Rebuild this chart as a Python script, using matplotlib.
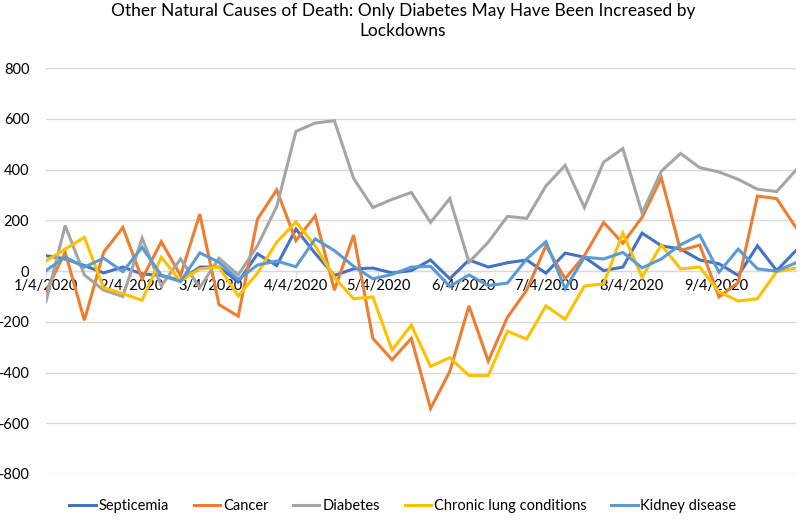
import matplotlib
matplotlib.use("Agg")
import matplotlib.pyplot as plt
import matplotlib.dates as mdates
import matplotlib.ticker as mticker
import pandas as pd

plt.rcParams['font.family'] = ['Lato', 'DejaVu Sans']
plt.rcParams['axes.unicode_minus'] = False

# weekly excess deaths, weeks ending 1/4/2020 .. 10/3/2020
weeks = pd.date_range("2020-01-04", periods=40, freq="7D")

septicemia = [61, 48, 22, -7, 16, -11, -17, -37, 16, 16, -43, 68, 22, 166, 70, -17, 9, 12, -7, 2,
              44, -30, 44, 16, 33, 44, -8, 71, 55, 2, 16, 150, 100, 87, 44, 29, -17, 100, 2, 81]
cancer = [-80, 74, -194, 74, 172, -30, 116, -17, 225, -132, -178, 205, 320, 120, 218, -75, 142, -265, -350, -265,
          -542, -396, -137, -355, -182, -75, 100, -30, 61, 192, 110, 212, 368, 81, 103, -102, -45, 296, 286, 172]
diabetes = [-120, 180, -15, -75, -100, 130, -58, 48, -65, 51, -15, 100, 255, 551, 584, 593, 365, 251, 283, 310,
            192, 286, 35, 114, 216, 208, 336, 417, 251, 430, 483, 229, 394, 464, 408, 391, 362, 323, 314, 398]
lung = [40, 87, 133, -66, -89, -115, 55, -40, 9, 16, -98, -8, 114, 194, 100, -25, -109, -102, -311, -213,
        -376, -341, -412, -412, -237, -268, -137, -190, -59, -50, 150, -24, 103, 9, 16, -82, -118, -109, -2, 12]
kidney = [2, 55, 16, 51, -2, 94, -17, -41, 72, 35, -33, 24, 40, 17, 127, 81, 19, -30, -13, 16,
          19, -60, -15, -57, -47, 48, 116, -70, 55, 48, 74, 13, 48, 104, 142, -4, 87, 9, 0, 33]

series = [
    ("Septicemia", septicemia, "#4472C4"),
    ("Cancer", cancer, "#ED7D31"),
    ("Diabetes", diabetes, "#A5A5A5"),
    ("Chronic lung conditions", lung, "#FFC000"),
    ("Kidney disease", kidney, "#5B9BD5"),
]

fig = plt.figure(figsize=(8.06, 5.2), dpi=100)
ax = fig.add_axes([0.057, 0.0885, 0.9305, 0.7802])

for name, vals, col in series:
    ax.plot(weeks, vals, color=col, lw=2.2, label=name, zorder=3,
            solid_joinstyle="miter")

ax.set_ylim(-800, 800)
ax.set_xlim(weeks[0], weeks[-1])
ax.yaxis.set_major_locator(mticker.MultipleLocator(200))
ax.grid(axis="y", color="#D9D9D9", lw=1)
ax.set_axisbelow(True)

for s in ["top", "right", "left"]:
    ax.spines[s].set_visible(False)
ax.spines["bottom"].set_position(("data", 0))
ax.spines["bottom"].set_color("#D9D9D9")

ax.xaxis.set_major_locator(mdates.MonthLocator(bymonthday=4))
ax.xaxis.set_major_formatter(mticker.FuncFormatter(
    lambda v, p: "{d.month}/{d.day}/{d.year}".format(d=mdates.num2date(v))))
ax.tick_params(axis="x", length=4, color="#D9D9D9", labelsize=10.5, pad=2)
ax.tick_params(axis="y", length=0, labelsize=10.5, pad=12)

fig.suptitle("Other Natural Causes of Death: Only Diabetes May Have Been Increased by\nLockdowns",
             x=0.5, y=0.995, fontsize=12.5, linespacing=1.35)

fig.legend(loc="center", bbox_to_anchor=(0.5, 0.026), ncol=5, frameon=False,
           fontsize=10.5, handlelength=1.8, handletextpad=0.2, columnspacing=1.7)

fig.savefig("out.png", dpi=100)
